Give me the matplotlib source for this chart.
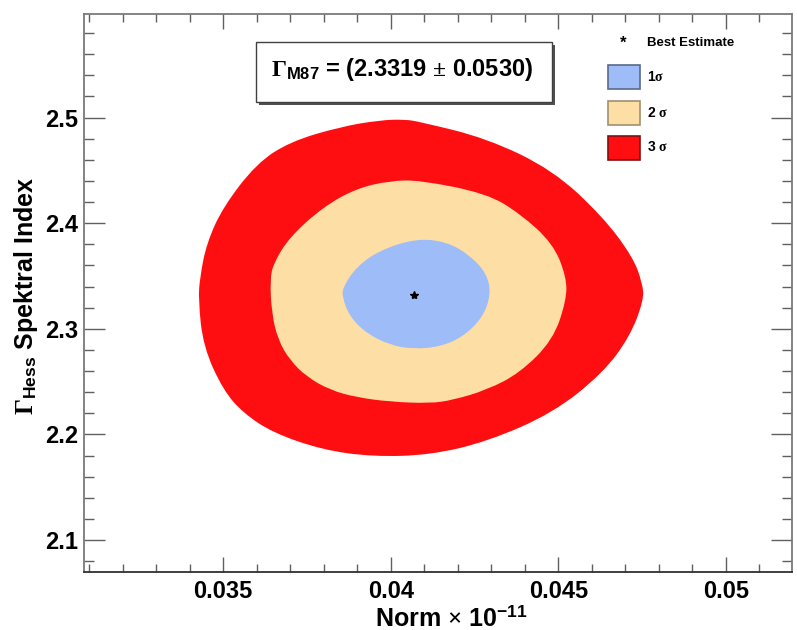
import matplotlib
matplotlib.use("Agg")
import matplotlib.pyplot as plt
from matplotlib.patches import PathPatch, Rectangle
from matplotlib.path import Path
from matplotlib.ticker import MultipleLocator, FormatStrFormatter

plt.rcParams['font.family'] = ['Liberation Sans', 'DejaVu Sans']
plt.rcParams['font.weight'] = 'bold'
plt.rcParams['mathtext.fontset'] = 'custom'
plt.rcParams['mathtext.rm'] = 'Liberation Serif'
plt.rcParams['mathtext.it'] = 'Liberation Serif:italic'
plt.rcParams['mathtext.bf'] = 'Liberation Sans:bold'

# contour outlines (norm, index)
x_3sig = [0.03968, 0.04042, 0.04087, 0.04286, 0.04484, 0.04633, 0.04722, 0.04751, 0.04755,
          0.04713, 0.04633, 0.04484, 0.04286, 0.04117, 0.03948, 0.03799, 0.03650, 0.03560,
          0.03500, 0.03441, 0.03426, 0.03431, 0.03451, 0.03500, 0.03600, 0.03699, 0.03848]
y_3sig = [2.4975, 2.4982, 2.4959, 2.4804, 2.4502, 2.4060, 2.3681, 2.3432, 2.3271,
          2.2924, 2.2581, 2.2202, 2.1930, 2.1805, 2.1789, 2.1852, 2.2013, 2.2202,
          2.2420, 2.2830, 2.3271, 2.3492, 2.3811, 2.4154, 2.4565, 2.4770, 2.4911]

x_2sig = [0.04087, 0.04286, 0.04385, 0.04484, 0.04524, 0.04524, 0.04484, 0.04385, 0.04286,
          0.04185, 0.04117, 0.03998, 0.03898, 0.03819, 0.03749, 0.03699, 0.03664, 0.03645,
          0.03640, 0.03650, 0.03699, 0.03799, 0.03898, 0.03998]
y_2sig = [2.4407, 2.4281, 2.4092, 2.3808, 2.3492, 2.3271, 2.2893, 2.2581, 2.2420,
          2.2325, 2.2294, 2.2309, 2.2351, 2.2420, 2.2546, 2.2704, 2.2893, 2.3146,
          2.3461, 2.3619, 2.3871, 2.4154, 2.4329, 2.4401]

x_1sig = [0.04077, 0.04167, 0.04236, 0.04286, 0.04299, 0.04276, 0.04216, 0.04147,
          0.04067, 0.03998, 0.03928, 0.03878, 0.03855, 0.03858, 0.03898, 0.03968]
y_1sig = [2.3855, 2.3823, 2.3697, 2.3524, 2.3335, 2.3113, 2.2924, 2.2830,
          2.2808, 2.2846, 2.2956, 2.3113, 2.3303, 2.3397, 2.3587, 2.3745]

best_norm = 0.0407
best_index = 2.3319
gamma_err = 0.0530

col_1 = '#9dbcf8'
col_2 = '#fddea4'
col_3 = '#fe0e10'


def smooth_region(xs, ys, color):
    # closed outline drawn as quadratic bezier through the midpoints of the read points
    n = len(xs)
    mid = [((xs[i] + xs[(i + 1) % n]) / 2, (ys[i] + ys[(i + 1) % n]) / 2) for i in range(n)]
    verts = [mid[-1]]
    codes = [Path.MOVETO]
    for i in range(n):
        verts += [(xs[i], ys[i]), mid[i]]
        codes += [Path.CURVE3, Path.CURVE3]
    verts.append(mid[-1])
    codes.append(Path.CLOSEPOLY)
    return PathPatch(Path(verts, codes), facecolor=color, edgecolor='none', lw=0)


fig = plt.figure(figsize=(7.97, 6.30), dpi=100)
ax = fig.add_axes([0.1054, 0.0925, 0.8883, 0.8853])

ax.add_patch(smooth_region(x_3sig, y_3sig, col_3))
ax.add_patch(smooth_region(x_2sig, y_2sig, col_2))
ax.add_patch(smooth_region(x_1sig, y_1sig, col_1))
ax.plot([best_norm], [best_index], marker='*', color='black', markersize=6, ls='none')

ax.set_xlim(0.03085, 0.05197)
ax.set_ylim(2.070, 2.598)

ax.xaxis.set_major_locator(MultipleLocator(0.005))
ax.xaxis.set_minor_locator(MultipleLocator(0.001))
ax.yaxis.set_major_locator(MultipleLocator(0.1))
ax.yaxis.set_minor_locator(MultipleLocator(0.02))
ax.xaxis.set_major_formatter(FormatStrFormatter('%g'))
ax.yaxis.set_major_formatter(FormatStrFormatter('%g'))

ax.tick_params(axis='both', which='both', direction='in', top=True, right=True,
               color='#606060', labelsize=17)
ax.tick_params(axis='y', which='major', length=15, width=1, pad=4)
ax.tick_params(axis='y', which='minor', length=7, width=1)
ax.tick_params(axis='x', which='major', length=11, width=1, pad=6)
ax.tick_params(axis='x', which='minor', length=6, width=1)
for lab in ax.get_xticklabels() + ax.get_yticklabels():
    lab.set_fontweight('bold')

for side in ['left', 'top', 'right']:
    ax.spines[side].set_color('#7a7a7a')
    ax.spines[side].set_linewidth(1.3)
ax.spines['bottom'].set_color('#303030')
ax.spines['bottom'].set_linewidth(1.3)

fig.text(0.566, 0.018, r'Norm $\times$ 10$^{\mathbf{-11}}$', fontsize=18,
         fontweight='bold', ha='center', va='center')
fig.text(0.033, 0.530, r'$\Gamma_{\mathbf{Hess}}$ Spektral Index', fontsize=18,
         fontweight='bold', rotation=90, ha='center', va='center')

# result box with shadow
fig.patches.append(Rectangle((0.3250, 0.8339), 0.3714, 0.0952, transform=fig.transFigure,
                             facecolor='#505050', edgecolor='none', zorder=5))
fig.patches.append(Rectangle((0.3212, 0.8386), 0.3714, 0.0952, transform=fig.transFigure,
                             facecolor='white', edgecolor='#404040', lw=1, zorder=6))
fig.text(0.5044, 0.889, r'$\Gamma_{\mathbf{M87}}$ = (%.4f $\pm$ %.4f)' % (best_index, gamma_err),
         fontsize=17, fontweight='bold', ha='center', va='center', zorder=7)

# legend
fig.text(0.7817, 0.9317, '*', fontsize=12, ha='center', va='center', zorder=7)
fig.text(0.8118, 0.9317, 'Best Estimate', fontsize=9.5, fontweight='bold', va='center', zorder=7)
leg_items = [(col_1, '#5a6a8a', r'1$\mathrm{\sigma}$', 0.8583, 0.8773),
             (col_2, '#a09070', r'2 $\mathrm{\sigma}$', 0.8016, 0.8214),
             (col_3, '#801010', r'3 $\mathrm{\sigma}$', 0.7460, 0.7659)]
for fc, ec, lab, yb, yt in leg_items:
    fig.patches.append(Rectangle((0.7629, yb), 0.0402, 0.0386, transform=fig.transFigure,
                                 facecolor=fc, edgecolor=ec, lw=1.2, zorder=6))
    fig.text(0.8118, yt, lab, fontsize=10, fontweight='bold', va='center', zorder=7)

fig.savefig('out.png', dpi=100)
